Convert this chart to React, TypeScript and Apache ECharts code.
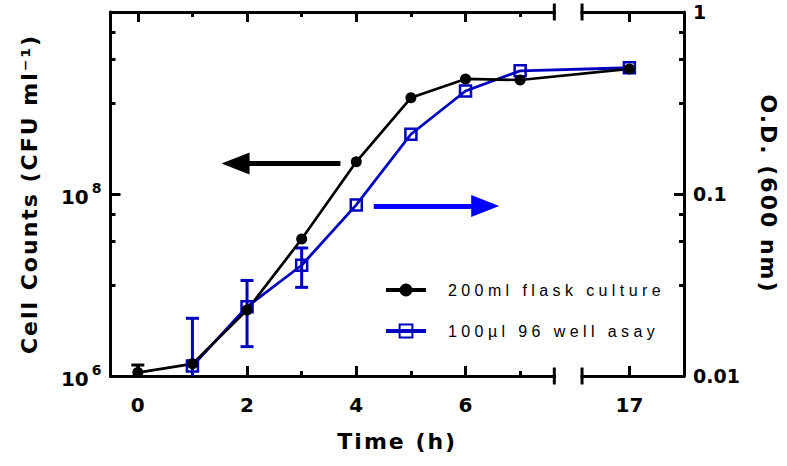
import React, { useEffect, useRef } from 'react';
import * as echarts from 'echarts';

// ---------- data ----------
const timeH = [0, 1, 2, 3, 4, 5, 6, 7, 17];
const flaskCfu = [1.09e6, 1.36e6, 5.3e6, 3.2e7, 2.26e8, 1.14e9, 1.84e9, 1.79e9, 2.37e9];
const flaskCfuSd = [0.23e6, 0, 0, 0, 0, 0, 0, 0, 0];
const wellOd: (number | null)[] = [null, 0.01135, 0.024, 0.0406, 0.0871, 0.213, 0.368, 0.475, 0.494];
const wellOdSd = [0, 0.0094, 0.0095, 0.0099, 0, 0, 0, 0, 0];

const seriesNames = ['200ml flask culture', '100µl 96 well asay'];

// ticks / labels
const xMajorTicks = [0, 2, 4, 6, 17];
const xMinorTicks = [1, 3, 5, 7];
const cfuMajorTicks = [1e6, 1e8, 1e10];
const cfuMinorTicks = [1e7, 3e7, 6e7, 1e9, 3e9, 6e9];
const cfuLabels = [1e6, 1e8];
const odMajorTicks = [0.01, 0.1, 1];
const odMinorTicks = [0.0316, 0.0548, 0.0775, 0.316, 0.548, 0.775];
const odLabels = [0.01, 0.1, 1];

// annotation arrows: [x(h), y] from -> to (to = centre of the arrow head)
const cfuArrow = [[3.71, 2.17e8], [1.79, 2.17e8]];
const odArrow = [[4.32, 0.0859], [6.36, 0.0859]];

// ---------- broken time axis ----------
const BREAK_LO = 7.5;
const BREAK_HI = 16;
const BREAK_GAP = 0.5;
const toDisp = (t: number) => (t > BREAK_LO ? t - BREAK_HI + BREAK_LO + BREAK_GAP : t);
const fromDisp = (v: number) => (v > BREAK_LO ? v + BREAK_HI - BREAK_LO - BREAK_GAP : v);

const XMIN = -0.5;
const XMAX = 10;
const GL = 110.5;
const GT = 12;
const GW = 582.5;
const GH = 364;

const FONT = 'Liberation Sans';
const WFONT = 'DejaVu Sans';
const BLUE = '#0000c0';
const ARROW_BLUE = '#0000ff';

const css = `
svg text[style*="22px"]{letter-spacing:2px}
svg text[style*="16px"]{letter-spacing:4.4px}
`;

function errRender(color: string) {
  return (params: any, api: any) => {
    const x = api.value(0);
    const lo = api.value(1);
    const hi = api.value(2);
    const pLo = api.coord([x, lo]);
    const pHi = api.coord([x, hi]);
    const hw = 6.5;
    const st = { stroke: color, lineWidth: 3 };
    return {
      type: 'group',
      children: [
        { type: 'line', shape: { x1: pHi[0], y1: pHi[1], x2: pLo[0], y2: pLo[1] }, style: st },
        { type: 'line', shape: { x1: pHi[0] - hw, y1: pHi[1], x2: pHi[0] + hw, y2: pHi[1] }, style: st },
        { type: 'line', shape: { x1: pLo[0] - hw, y1: pLo[1], x2: pLo[0] + hw, y2: pLo[1] }, style: st },
      ],
    };
  };
}

export default function App() {
  const ref = useRef<HTMLDivElement>(null);

  useEffect(() => {
    const chart = echarts.init(ref.current!, null, { renderer: 'svg' });

    const xBase = {
      type: 'value',
      min: XMIN,
      max: XMAX,
      gridIndex: 0,
      splitLine: { show: false },
      axisPointer: { show: false },
    };
    const lineStyle = { color: '#000', width: 3 };
    const titleStyle = { fontFamily: WFONT, fontWeight: 'bold', fontSize: 22, color: '#000' };

    const xAxis: any[] = [
      {
        ...xBase,
        position: 'bottom',
        axisLine: { show: true, onZero: false, lineStyle },
        axisTick: { show: true, inside: true, length: 10, lineStyle, customValues: xMajorTicks.map(toDisp) },
        axisLabel: {
          show: true,
          customValues: xMajorTicks.map(toDisp),
          formatter: (v: number) => String(Math.round(fromDisp(v))),
          margin: 19,
          fontFamily: WFONT,
          fontWeight: 'bold',
          fontSize: 20,
          color: '#000',
        },
        name: 'Time (h)',
        nameLocation: 'middle',
        nameGap: 54,
        nameTextStyle: titleStyle,
      },
      {
        ...xBase,
        position: 'bottom',
        axisLine: { show: false, onZero: false },
        axisTick: { show: true, inside: true, length: 5, lineStyle, customValues: xMinorTicks.map(toDisp) },
        axisLabel: { show: false },
      },
      {
        ...xBase,
        position: 'top',
        axisLine: { show: true, onZero: false, lineStyle },
        axisTick: { show: true, inside: true, length: 10, lineStyle, customValues: xMajorTicks.map(toDisp) },
        axisLabel: { show: false },
      },
      {
        ...xBase,
        position: 'top',
        axisLine: { show: false, onZero: false },
        axisTick: { show: true, inside: true, length: 5, lineStyle, customValues: xMinorTicks.map(toDisp) },
        axisLabel: { show: false },
      },
    ];

    const cfuBase = { type: 'log', logBase: 10, min: 1e6, max: 1e10, gridIndex: 0, position: 'left', splitLine: { show: false } };
    const odBase = { type: 'log', logBase: 10, min: 0.01, max: 1, gridIndex: 0, position: 'right', splitLine: { show: false } };

    const yAxis: any[] = [
      {
        ...cfuBase,
        axisLine: { show: true, onZero: false, lineStyle },
        axisTick: { show: true, inside: true, length: 10, lineStyle, customValues: cfuMajorTicks },
        axisLabel: {
          show: true,
          customValues: cfuLabels,
          margin: 9,
          padding: [6, 0, 0, 0],
          formatter: (v: number) => `{b|10}{s|${Math.round(Math.log10(v))}}`,
          rich: {
            b: { fontFamily: WFONT, fontWeight: 'bold', fontSize: 20, lineHeight: 20, verticalAlign: 'bottom', color: '#000' },
            s: { fontFamily: WFONT, fontWeight: 'bold', fontSize: 14, lineHeight: 14, padding: [0, 0, 12, 3], verticalAlign: 'bottom', color: '#000' },
          },
        },
        name: 'Cell Counts (CFU ml⁻¹)',
        nameLocation: 'middle',
        nameRotate: 90,
        nameGap: 70,
        nameTextStyle: titleStyle,
      },
      {
        ...cfuBase,
        axisLine: { show: false, onZero: false },
        axisTick: { show: true, inside: true, length: 5, lineStyle, customValues: cfuMinorTicks },
        axisLabel: { show: false },
      },
      {
        ...odBase,
        axisLine: { show: true, onZero: false, lineStyle },
        axisTick: { show: true, inside: true, length: 10, lineStyle, customValues: odMajorTicks },
        axisLabel: {
          show: true,
          customValues: odLabels,
          margin: 9,
          padding: [7, 0, 0, 0],
          formatter: (v: number) => String(v),
          fontFamily: WFONT,
          fontWeight: 'bold',
          fontSize: 19,
          color: '#000',
        },
        name: 'O.D. (600 nm)',
        nameLocation: 'middle',
        nameRotate: -90,
        nameGap: 73,
        nameTextStyle: titleStyle,
      },
      {
        ...odBase,
        axisLine: { show: false, onZero: false },
        axisTick: { show: true, inside: true, length: 5, lineStyle, customValues: odMinorTicks },
        axisLabel: { show: false },
      },
    ];

    const blackData = timeH.map((t, i) => [toDisp(t), flaskCfu[i]]);
    const blueData = timeH
      .map((t, i) => (wellOd[i] == null ? null : [toDisp(t), wellOd[i] as number]))
      .filter((d) => d != null);
    const blackErr = timeH
      .map((t, i) => (flaskCfuSd[i] > 0 ? [toDisp(t), flaskCfu[i] - flaskCfuSd[i], flaskCfu[i] + flaskCfuSd[i]] : null))
      .filter((d) => d != null);
    const blueErr = timeH
      .map((t, i) =>
        wellOd[i] != null && wellOdSd[i] > 0
          ? [toDisp(t), (wellOd[i] as number) - wellOdSd[i], (wellOd[i] as number) + wellOdSd[i]]
          : null
      )
      .filter((d) => d != null);

    const arrowMark = (arr: number[][], color: string) => ({
      silent: true,
      symbol: ['none', 'triangle'],
      label: { show: false },
      emphasis: { disabled: true },
      lineStyle: { color, width: 5, type: 'solid' },
      data: [
        [
          { coord: arr[0], symbol: 'none' },
          { coord: arr[1], symbol: 'triangle', symbolSize: [22, 28], itemStyle: { color } },
        ],
      ],
    });

    const px = (v: number) => GL + ((v - XMIN) / (XMAX - XMIN)) * GW;
    const bx1 = px(BREAK_LO);
    const bx2 = px(BREAK_LO + BREAK_GAP);
    const breakTick = (x: number, y: number) => ({
      type: 'line',
      z: 4,
      shape: { x1: x, y1: y - 8.5, x2: x, y2: y + 8.5 },
      style: { stroke: '#000', lineWidth: 3 },
    });

    const option: any = {
      animation: false,
      backgroundColor: '#fff',
      grid: [{ left: GL, top: GT, width: GW, height: GH, containLabel: false }],
      xAxis,
      yAxis,
      legend: {
        show: true,
        orient: 'vertical',
        left: 384,
        top: 282,
        padding: 0,
        itemWidth: 40,
        itemHeight: 16,
        itemGap: 25,
        z: 6,
        data: seriesNames,
        lineStyle: { width: 4 },
        textStyle: { fontFamily: FONT, fontSize: 16, color: '#000', lineHeight: 16, padding: [0, 0, 0, 17] },
      },
      graphic: [
        {
          type: 'rect',
          z: 3,
          shape: { x: bx1 + 1.5, y: 0, width: bx2 - bx1 - 3, height: GT + GH + 15 },
          style: { fill: '#fff' },
        },
        breakTick(bx1, GT),
        breakTick(bx2, GT),
        breakTick(bx1, GT + GH),
        breakTick(bx2, GT + GH),
      ],
      series: [
        {
          type: 'custom',
          name: 'odErr',
          xAxisIndex: 0,
          yAxisIndex: 2,
          clip: true,
          silent: true,
          data: blueErr,
          encode: { x: 0, y: [1, 2] },
          renderItem: errRender(BLUE),
        },
        {
          type: 'line',
          name: seriesNames[1],
          xAxisIndex: 0,
          yAxisIndex: 2,
          data: blueData,
          clip: true,
          symbol: 'rect',
          symbolSize: 11,
          itemStyle: { color: 'rgba(0,0,0,0)', borderColor: BLUE, borderWidth: 2.5 },
          lineStyle: { color: BLUE, width: 2.8 },
          emphasis: { disabled: true },
          markLine: arrowMark(odArrow, ARROW_BLUE),
        },
        {
          type: 'custom',
          name: 'cfuErr',
          xAxisIndex: 0,
          yAxisIndex: 0,
          clip: true,
          silent: true,
          data: blackErr,
          encode: { x: 0, y: [1, 2] },
          renderItem: errRender('#000'),
        },
        {
          type: 'line',
          name: seriesNames[0],
          xAxisIndex: 0,
          yAxisIndex: 0,
          data: blackData,
          clip: true,
          symbol: 'circle',
          symbolSize: 11,
          itemStyle: { color: '#000' },
          lineStyle: { color: '#000', width: 2.7 },
          emphasis: { disabled: true },
          markLine: arrowMark(cfuArrow, '#000'),
        },
      ],
    };

    chart.setOption(option);
    return () => chart.dispose();
  }, []);

  return (
    <>
      <style>{css}</style>
      <div ref={ref} style={{ position: 'fixed', left: 0, top: 0, width: 787, height: 466 }} />
    </>
  );
}
